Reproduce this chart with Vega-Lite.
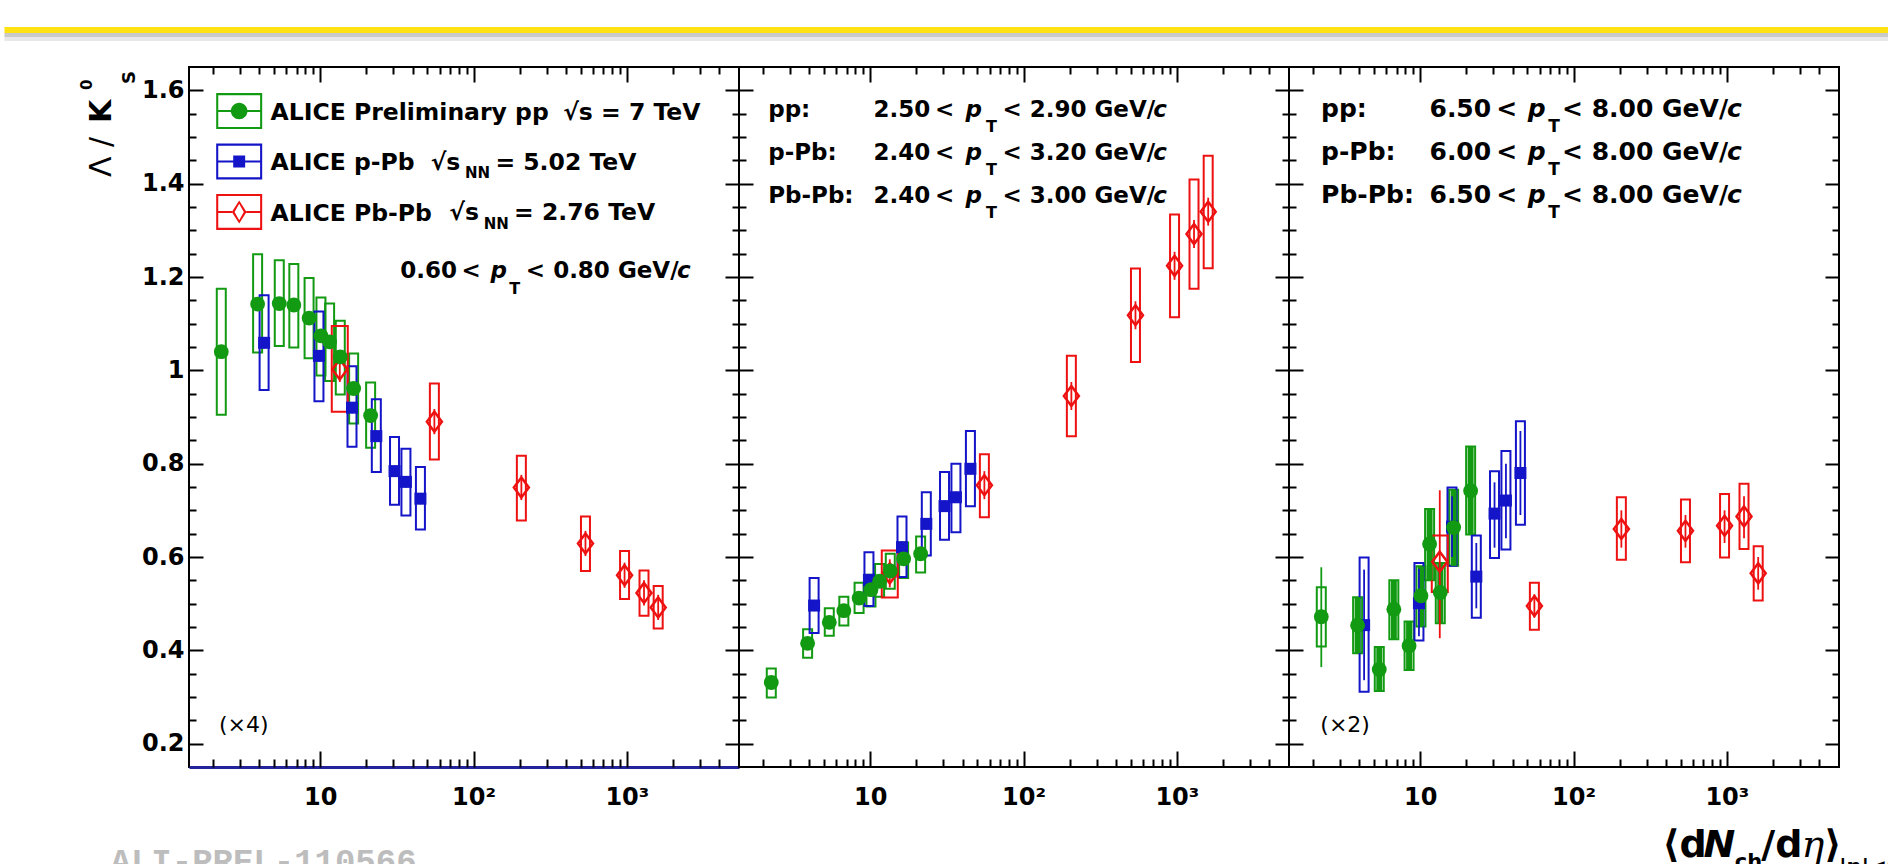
{
"$schema":"https://vega.github.io/schema/vega-lite/v6.json",
"background":"white",
"padding":{"left":0,"top":25,"right":0,"bottom":0},
"config":{"font":"DejaVu Sans","view":{"stroke":"#000","strokeWidth":2},"axis":{"grid":false,"domain":false,"labelFont":"DejaVu Sans","labelFontWeight":"bold","labelFontSize":24,"labelColor":"#000","tickColor":"#000","tickWidth":2},"text":{"color":"#000"}},
"data":{"values":[
{"panel":1,"coll":"pp","x":2.26,"y":1.040,"stat_lo":1.034,"stat_hi":1.046,"syst_lo":0.905,"syst_hi":1.175},
{"panel":1,"coll":"pp","x":3.9,"y":1.142,"stat_lo":1.136,"stat_hi":1.148,"syst_lo":1.038,"syst_hi":1.249},
{"panel":1,"coll":"pp","x":5.4,"y":1.143,"stat_lo":1.137,"stat_hi":1.149,"syst_lo":1.052,"syst_hi":1.236},
{"panel":1,"coll":"pp","x":6.72,"y":1.140,"stat_lo":1.134,"stat_hi":1.146,"syst_lo":1.049,"syst_hi":1.228},
{"panel":1,"coll":"pp","x":8.45,"y":1.112,"stat_lo":1.106,"stat_hi":1.118,"syst_lo":1.026,"syst_hi":1.198},
{"panel":1,"coll":"pp","x":10.1,"y":1.074,"stat_lo":1.068,"stat_hi":1.080,"syst_lo":0.989,"syst_hi":1.156},
{"panel":1,"coll":"pp","x":11.5,"y":1.061,"stat_lo":1.055,"stat_hi":1.067,"syst_lo":0.977,"syst_hi":1.143},
{"panel":1,"coll":"pp","x":13.5,"y":1.029,"stat_lo":1.023,"stat_hi":1.035,"syst_lo":0.948,"syst_hi":1.106},
{"panel":1,"coll":"pp","x":16.5,"y":0.961,"stat_lo":0.955,"stat_hi":0.967,"syst_lo":0.886,"syst_hi":1.036},
{"panel":1,"coll":"pp","x":21.3,"y":0.903,"stat_lo":0.897,"stat_hi":0.909,"syst_lo":0.834,"syst_hi":0.974},
{"panel":1,"coll":"pPb","x":4.3,"y":1.059,"stat_lo":1.047,"stat_hi":1.071,"syst_lo":0.958,"syst_hi":1.161},
{"panel":1,"coll":"pPb","x":9.8,"y":1.031,"stat_lo":1.019,"stat_hi":1.043,"syst_lo":0.934,"syst_hi":1.126},
{"panel":1,"coll":"pPb","x":16.1,"y":0.920,"stat_lo":0.908,"stat_hi":0.932,"syst_lo":0.836,"syst_hi":1.009},
{"panel":1,"coll":"pPb","x":23.2,"y":0.859,"stat_lo":0.847,"stat_hi":0.871,"syst_lo":0.782,"syst_hi":0.938},
{"panel":1,"coll":"pPb","x":30.5,"y":0.784,"stat_lo":0.772,"stat_hi":0.796,"syst_lo":0.712,"syst_hi":0.857},
{"panel":1,"coll":"pPb","x":36.2,"y":0.761,"stat_lo":0.749,"stat_hi":0.773,"syst_lo":0.689,"syst_hi":0.832},
{"panel":1,"coll":"pPb","x":45,"y":0.725,"stat_lo":0.713,"stat_hi":0.737,"syst_lo":0.659,"syst_hi":0.793},
{"panel":1,"coll":"PbPb","x":13.4,"y":1.002,"stat_lo":0.975,"stat_hi":1.029,"syst_lo":0.911,"syst_hi":1.095},
{"panel":1,"coll":"PbPb","x":55.5,"y":0.890,"stat_lo":0.863,"stat_hi":0.917,"syst_lo":0.809,"syst_hi":0.972},
{"panel":1,"coll":"PbPb","x":205,"y":0.749,"stat_lo":0.722,"stat_hi":0.776,"syst_lo":0.678,"syst_hi":0.817},
{"panel":1,"coll":"PbPb","x":537,"y":0.629,"stat_lo":0.602,"stat_hi":0.656,"syst_lo":0.570,"syst_hi":0.687},
{"panel":1,"coll":"PbPb","x":966,"y":0.561,"stat_lo":0.534,"stat_hi":0.588,"syst_lo":0.510,"syst_hi":0.613},
{"panel":1,"coll":"PbPb","x":1294,"y":0.523,"stat_lo":0.496,"stat_hi":0.550,"syst_lo":0.474,"syst_hi":0.571},
{"panel":1,"coll":"PbPb","x":1601,"y":0.492,"stat_lo":0.465,"stat_hi":0.519,"syst_lo":0.447,"syst_hi":0.538},
{"panel":2,"coll":"pp","x":2.26,"y":0.331,"stat_lo":0.325,"stat_hi":0.337,"syst_lo":0.299,"syst_hi":0.361},
{"panel":2,"coll":"pp","x":3.9,"y":0.415,"stat_lo":0.409,"stat_hi":0.421,"syst_lo":0.384,"syst_hi":0.445},
{"panel":2,"coll":"pp","x":5.4,"y":0.460,"stat_lo":0.454,"stat_hi":0.466,"syst_lo":0.431,"syst_hi":0.490},
{"panel":2,"coll":"pp","x":6.72,"y":0.485,"stat_lo":0.479,"stat_hi":0.491,"syst_lo":0.453,"syst_hi":0.515},
{"panel":2,"coll":"pp","x":8.45,"y":0.512,"stat_lo":0.506,"stat_hi":0.518,"syst_lo":0.480,"syst_hi":0.545},
{"panel":2,"coll":"pp","x":10.1,"y":0.530,"stat_lo":0.524,"stat_hi":0.536,"syst_lo":0.494,"syst_hi":0.562},
{"panel":2,"coll":"pp","x":11.5,"y":0.548,"stat_lo":0.542,"stat_hi":0.554,"syst_lo":0.515,"syst_hi":0.585},
{"panel":2,"coll":"pp","x":13.5,"y":0.570,"stat_lo":0.564,"stat_hi":0.576,"syst_lo":0.532,"syst_hi":0.607},
{"panel":2,"coll":"pp","x":16.5,"y":0.596,"stat_lo":0.590,"stat_hi":0.602,"syst_lo":0.555,"syst_hi":0.631},
{"panel":2,"coll":"pp","x":21.3,"y":0.607,"stat_lo":0.601,"stat_hi":0.613,"syst_lo":0.567,"syst_hi":0.644},
{"panel":2,"coll":"pPb","x":4.3,"y":0.496,"stat_lo":0.484,"stat_hi":0.508,"syst_lo":0.437,"syst_hi":0.555},
{"panel":2,"coll":"pPb","x":9.8,"y":0.551,"stat_lo":0.539,"stat_hi":0.563,"syst_lo":0.495,"syst_hi":0.610},
{"panel":2,"coll":"pPb","x":16.1,"y":0.621,"stat_lo":0.609,"stat_hi":0.633,"syst_lo":0.557,"syst_hi":0.687},
{"panel":2,"coll":"pPb","x":23.2,"y":0.671,"stat_lo":0.659,"stat_hi":0.683,"syst_lo":0.603,"syst_hi":0.739},
{"panel":2,"coll":"pPb","x":30.5,"y":0.709,"stat_lo":0.697,"stat_hi":0.721,"syst_lo":0.637,"syst_hi":0.782},
{"panel":2,"coll":"pPb","x":36.2,"y":0.728,"stat_lo":0.716,"stat_hi":0.740,"syst_lo":0.653,"syst_hi":0.800},
{"panel":2,"coll":"pPb","x":45,"y":0.789,"stat_lo":0.777,"stat_hi":0.801,"syst_lo":0.709,"syst_hi":0.870},
{"panel":2,"coll":"PbPb","x":13.4,"y":0.565,"stat_lo":0.535,"stat_hi":0.595,"syst_lo":0.513,"syst_hi":0.614},
{"panel":2,"coll":"PbPb","x":55.5,"y":0.754,"stat_lo":0.724,"stat_hi":0.784,"syst_lo":0.685,"syst_hi":0.820},
{"panel":2,"coll":"PbPb","x":205,"y":0.945,"stat_lo":0.915,"stat_hi":0.975,"syst_lo":0.859,"syst_hi":1.031},
{"panel":2,"coll":"PbPb","x":537,"y":1.118,"stat_lo":1.088,"stat_hi":1.148,"syst_lo":1.018,"syst_hi":1.218},
{"panel":2,"coll":"PbPb","x":966,"y":1.224,"stat_lo":1.194,"stat_hi":1.254,"syst_lo":1.114,"syst_hi":1.334},
{"panel":2,"coll":"PbPb","x":1294,"y":1.292,"stat_lo":1.262,"stat_hi":1.322,"syst_lo":1.175,"syst_hi":1.409},
{"panel":2,"coll":"PbPb","x":1601,"y":1.340,"stat_lo":1.310,"stat_hi":1.370,"syst_lo":1.219,"syst_hi":1.460},
{"panel":3,"coll":"pp","x":2.26,"y":0.472,"stat_lo":0.364,"stat_hi":0.578,"syst_lo":0.408,"syst_hi":0.535},
{"panel":3,"coll":"pp","x":3.9,"y":0.454,"stat_lo":0.394,"stat_hi":0.514,"syst_lo":0.394,"syst_hi":0.514},
{"panel":3,"coll":"pp","x":5.4,"y":0.359,"stat_lo":0.313,"stat_hi":0.407,"syst_lo":0.313,"syst_hi":0.407},
{"panel":3,"coll":"pp","x":6.72,"y":0.488,"stat_lo":0.424,"stat_hi":0.550,"syst_lo":0.424,"syst_hi":0.550},
{"panel":3,"coll":"pp","x":8.45,"y":0.410,"stat_lo":0.358,"stat_hi":0.462,"syst_lo":0.358,"syst_hi":0.462},
{"panel":3,"coll":"pp","x":10.1,"y":0.517,"stat_lo":0.451,"stat_hi":0.580,"syst_lo":0.451,"syst_hi":0.580},
{"panel":3,"coll":"pp","x":11.5,"y":0.628,"stat_lo":0.550,"stat_hi":0.703,"syst_lo":0.550,"syst_hi":0.703},
{"panel":3,"coll":"pp","x":13.5,"y":0.524,"stat_lo":0.458,"stat_hi":0.587,"syst_lo":0.458,"syst_hi":0.587},
{"panel":3,"coll":"pp","x":16.5,"y":0.663,"stat_lo":0.581,"stat_hi":0.744,"syst_lo":0.581,"syst_hi":0.744},
{"panel":3,"coll":"pp","x":21.3,"y":0.742,"stat_lo":0.648,"stat_hi":0.837,"syst_lo":0.648,"syst_hi":0.837},
{"panel":3,"coll":"pPb","x":4.3,"y":0.454,"stat_lo":0.336,"stat_hi":0.573,"syst_lo":0.311,"syst_hi":0.599},
{"panel":3,"coll":"pPb","x":9.8,"y":0.501,"stat_lo":0.430,"stat_hi":0.575,"syst_lo":0.421,"syst_hi":0.587},
{"panel":3,"coll":"pPb","x":16.1,"y":0.665,"stat_lo":0.600,"stat_hi":0.730,"syst_lo":0.581,"syst_hi":0.749},
{"panel":3,"coll":"pPb","x":23.2,"y":0.558,"stat_lo":0.490,"stat_hi":0.630,"syst_lo":0.470,"syst_hi":0.646},
{"panel":3,"coll":"pPb","x":30.5,"y":0.693,"stat_lo":0.620,"stat_hi":0.760,"syst_lo":0.598,"syst_hi":0.784},
{"panel":3,"coll":"pPb","x":36.2,"y":0.721,"stat_lo":0.640,"stat_hi":0.800,"syst_lo":0.616,"syst_hi":0.827},
{"panel":3,"coll":"pPb","x":45,"y":0.780,"stat_lo":0.690,"stat_hi":0.870,"syst_lo":0.669,"syst_hi":0.891},
{"panel":3,"coll":"PbPb","x":13.4,"y":0.590,"stat_lo":0.426,"stat_hi":0.743,"syst_lo":0.525,"syst_hi":0.646},
{"panel":3,"coll":"PbPb","x":55.5,"y":0.495,"stat_lo":0.470,"stat_hi":0.520,"syst_lo":0.444,"syst_hi":0.545},
{"panel":3,"coll":"PbPb","x":205,"y":0.660,"stat_lo":0.620,"stat_hi":0.700,"syst_lo":0.594,"syst_hi":0.728},
{"panel":3,"coll":"PbPb","x":537,"y":0.656,"stat_lo":0.620,"stat_hi":0.690,"syst_lo":0.589,"syst_hi":0.723},
{"panel":3,"coll":"PbPb","x":966,"y":0.667,"stat_lo":0.630,"stat_hi":0.700,"syst_lo":0.599,"syst_hi":0.735},
{"panel":3,"coll":"PbPb","x":1294,"y":0.687,"stat_lo":0.640,"stat_hi":0.730,"syst_lo":0.617,"syst_hi":0.757},
{"panel":3,"coll":"PbPb","x":1601,"y":0.565,"stat_lo":0.530,"stat_hi":0.600,"syst_lo":0.507,"syst_hi":0.623}
]},
"spacing":0,
"bounds":"flush",
"resolve":{"scale":{"x":"independent","y":"independent"}},
"hconcat":[
{"width":550,"height":700,
"resolve":{"axis":{"x":"independent","y":"independent"}},
"layer":[
{"data":{"values":[{}]},"mark":{"type":"rule","color":"#c9c9c9","strokeWidth":4},"encoding":{"x":{"datum":0.087,"type":"quantitative","scale":{"type":"log","domain":[1.5,5000],"nice":false},"axis":null},"x2":{"datum":3e11},"y":{"datum":1.7186,"type":"quantitative","scale":{"domain":[0.15,1.65],"nice":false,"zero":false},"axis":null}}},
{"data":{"values":[{}]},"mark":{"type":"rule","color":"#e8e8e8","strokeWidth":4},"encoding":{"x":{"datum":0.087,"type":"quantitative","scale":{"type":"log","domain":[1.5,5000],"nice":false},"axis":null},"x2":{"datum":3e11},"y":{"datum":1.71,"type":"quantitative","scale":{"domain":[0.15,1.65],"nice":false,"zero":false},"axis":null}}},
{"data":{"values":[{}]},"mark":{"type":"rule","color":"#ffe212","strokeWidth":6},"encoding":{"x":{"datum":0.087,"type":"quantitative","scale":{"type":"log","domain":[1.5,5000],"nice":false},"axis":null},"x2":{"datum":3e11},"y":{"datum":1.7293,"type":"quantitative","scale":{"domain":[0.15,1.65],"nice":false,"zero":false},"axis":null}}},
{"transform":[{"filter":"datum.panel == 1 && !(datum.coll == 'PbPb' && datum.x < 20)"}],
"mark":{"type":"bar","filled":false,"width":9,"strokeWidth":2},
"encoding":{"x":{"field":"x","type":"quantitative","scale":{"type":"log","domain":[1.5,5000],"nice":false},"axis":{"orient":"bottom","values":[10,100,1000],"ticks":false,"domain":true,"domainColor":"#23239a","domainWidth":3,"labelExpr":"datum.value == 10 ? '10' : datum.value == 100 ? '10²' : '10³'","labelAlign":"center","labelPadding":18,"title":null}},
"y":{"field":"syst_lo","type":"quantitative","scale":{"domain":[0.15,1.65],"nice":false,"zero":false},"axis":{"orient":"left","values":[0.2,0.4,0.6,0.8,1,1.2,1.4,1.6],"ticks":false,"format":"~g","labelPadding":5,"title":null}},
"y2":{"field":"syst_hi"},
"color":{"field":"coll","type":"nominal","scale":{"domain":["pp","pPb","PbPb"],"range":["#129a12","#1414c8","#ee1111"]},"legend":null}}},
{"transform":[{"filter":"datum.panel == 1 && datum.coll == 'PbPb' && datum.x < 20"}],
"mark":{"type":"bar","filled":false,"width":16,"strokeWidth":2},
"encoding":{"x":{"field":"x","type":"quantitative","scale":{"type":"log","domain":[1.5,5000],"nice":false},"axis":{"orient":"bottom","values":[10,100,1000],"labels":false,"tickSize":16,"offset":-16,"title":null}},
"y":{"field":"syst_lo","type":"quantitative","scale":{"domain":[0.15,1.65],"nice":false,"zero":false},"axis":{"orient":"left","values":[0.2,0.4,0.6,0.8,1,1.2,1.4,1.6],"labels":false,"tickSize":14,"offset":-14,"title":null}},
"y2":{"field":"syst_hi"},
"color":{"field":"coll","type":"nominal","scale":{"domain":["pp","pPb","PbPb"],"range":["#129a12","#1414c8","#ee1111"]},"legend":null}}},
{"transform":[{"filter":"datum.panel == 1"}],
"mark":{"type":"rule","strokeWidth":1.8},
"encoding":{"x":{"field":"x","type":"quantitative","scale":{"type":"log","domain":[1.5,5000],"nice":false},"axis":{"orient":"bottom","values":[2,3,4,5,6,7,8,9,20,30,40,50,60,70,80,90,200,300,400,500,600,700,800,900,2000,3000,4000],"labels":false,"tickSize":8,"offset":-8,"title":null}},
"y":{"field":"stat_lo","type":"quantitative","scale":{"domain":[0.15,1.65],"nice":false,"zero":false},"axis":{"orient":"left","values":[0.25,0.3,0.35,0.45,0.5,0.55,0.65,0.7,0.75,0.85,0.9,0.95,1.05,1.1,1.15,1.25,1.3,1.35,1.45,1.5,1.55],"labels":false,"tickSize":7,"offset":-7,"title":null}},
"y2":{"field":"stat_hi"},
"color":{"field":"coll","type":"nominal","scale":{"domain":["pp","pPb","PbPb"],"range":["#129a12","#1414c8","#ee1111"]},"legend":null}}},
{"transform":[{"filter":"datum.panel == 1 && datum.coll == 'PbPb'"}],
"mark":{"type":"point","shape":"M0,-1L0.75,0L0,1L-0.75,0Z","size":400,"filled":false,"strokeWidth":2.5,"color":"#ee1111","opacity":1},
"encoding":{"x":{"field":"x","type":"quantitative","scale":{"type":"log","domain":[1.5,5000],"nice":false},"axis":{"orient":"top","values":[10,100,1000],"labels":false,"tickSize":15,"offset":-15,"title":null}},
"y":{"field":"y","type":"quantitative","scale":{"domain":[0.15,1.65],"nice":false,"zero":false},"axis":{"orient":"right","values":[0.2,0.4,0.6,0.8,1,1.2,1.4,1.6],"labels":false,"tickSize":14,"offset":-14,"title":null}}}},
{"transform":[{"filter":"datum.panel == 1 && datum.coll == 'pPb'"}],
"mark":{"type":"point","shape":"square","size":144,"filled":true,"color":"#1414c8","opacity":1},
"encoding":{"x":{"field":"x","type":"quantitative","scale":{"type":"log","domain":[1.5,5000],"nice":false},"axis":{"orient":"top","values":[2,3,4,5,6,7,8,9,20,30,40,50,60,70,80,90,200,300,400,500,600,700,800,900,2000,3000,4000],"labels":false,"tickSize":7,"offset":-7,"title":null}},
"y":{"field":"y","type":"quantitative","scale":{"domain":[0.15,1.65],"nice":false,"zero":false},"axis":{"orient":"right","values":[0.25,0.3,0.35,0.45,0.5,0.55,0.65,0.7,0.75,0.85,0.9,0.95,1.05,1.1,1.15,1.25,1.3,1.35,1.45,1.5,1.55],"labels":false,"tickSize":7,"offset":-7,"title":null}}}},
{"transform":[{"filter":"datum.panel == 1 && datum.coll == 'pp'"}],
"mark":{"type":"point","shape":"circle","size":220,"filled":true,"color":"#129a12","opacity":1},
"encoding":{"x":{"field":"x","type":"quantitative","scale":{"type":"log","domain":[1.5,5000],"nice":false},"axis":null},
"y":{"field":"y","type":"quantitative","scale":{"domain":[0.15,1.65],"nice":false,"zero":false},"axis":null}}},
{"data":{"values":[{}]},"mark":{"type":"point","shape":"M-1,-0.78L1,-0.78L1,0.78L-1,0.78Z M-0.91,-0.69L-0.91,0.69L0.91,0.69L0.91,-0.69Z M-0.91,-0.045L0.91,-0.045L0.91,0.045L-0.91,0.045Z M-0.36,0A0.36,0.36 0 1,1 0.36,0A0.36,0.36 0 1,1 -0.36,0Z","size":2116,"filled":true,"color":"#129a12","strokeWidth":0,"opacity":1},"encoding":{"x":{"datum":2.957,"type":"quantitative","scale":{"type":"log","domain":[1.5,5000],"nice":false},"axis":null},"y":{"datum":1.5557,"type":"quantitative","scale":{"domain":[0.15,1.65],"nice":false,"zero":false},"axis":null}}},
{"data":{"values":[{}]},"mark":{"type":"point","shape":"M-1,-0.78L1,-0.78L1,0.78L-1,0.78Z M-0.91,-0.69L-0.91,0.69L0.91,0.69L0.91,-0.69Z M-0.91,-0.045L0.91,-0.045L0.91,0.045L-0.91,0.045Z M-0.26,-0.26L0.26,-0.26L0.26,0.26L-0.26,0.26Z","size":2116,"filled":true,"color":"#1414c8","strokeWidth":0,"opacity":1},"encoding":{"x":{"datum":2.957,"type":"quantitative","scale":{"type":"log","domain":[1.5,5000],"nice":false},"axis":null},"y":{"datum":1.4475,"type":"quantitative","scale":{"domain":[0.15,1.65],"nice":false,"zero":false},"axis":null}}},
{"data":{"values":[{}]},"mark":{"type":"point","shape":"M-1,-0.78L1,-0.78L1,0.78L-1,0.78Z M-0.91,-0.69L-0.91,0.69L0.91,0.69L0.91,-0.69Z M-0.91,-0.045L-0.31,-0.045L-0.31,0.045L-0.91,0.045Z M0.31,-0.045L0.91,-0.045L0.91,0.045L0.31,0.045Z M0,-0.5L0.32,0L0,0.5L-0.32,0Z M0,-0.36L-0.2,0L0,0.36L0.2,0Z","size":2116,"filled":true,"color":"#ee1111","strokeWidth":0,"opacity":1},"encoding":{"x":{"datum":2.957,"type":"quantitative","scale":{"type":"log","domain":[1.5,5000],"nice":false},"axis":null},"y":{"datum":1.3393,"type":"quantitative","scale":{"domain":[0.15,1.65],"nice":false,"zero":false},"axis":null}}},
{"data":{"values":[{}]},"mark":{"type":"text","text":["ALICE Preliminary pp","ALICE p-Pb","ALICE Pb-Pb"],"lineHeight":50.5,"align":"left","baseline":"alphabetic","fontSize":23.5,"fontWeight":"bold"},"encoding":{"x":{"datum":4.74,"type":"quantitative","scale":{"type":"log","domain":[1.5,5000],"nice":false},"axis":null},"y":{"datum":1.5375,"type":"quantitative","scale":{"domain":[0.15,1.65],"nice":false,"zero":false},"axis":null}}},
{"data":{"values":[{}]},"mark":{"type":"text","text":"√s = 7 TeV","align":"left","baseline":"alphabetic","fontSize":23.5,"fontWeight":"bold"},"encoding":{"x":{"datum":384.2,"type":"quantitative","scale":{"type":"log","domain":[1.5,5000],"nice":false},"axis":null},"y":{"datum":1.5375,"type":"quantitative","scale":{"domain":[0.15,1.65],"nice":false,"zero":false},"axis":null}}},
{"data":{"values":[{}]},"mark":{"type":"text","text":"√s","align":"left","baseline":"alphabetic","fontSize":23.5,"fontWeight":"bold"},"encoding":{"x":{"datum":52.5,"type":"quantitative","scale":{"type":"log","domain":[1.5,5000],"nice":false},"axis":null},"y":{"datum":1.4293,"type":"quantitative","scale":{"domain":[0.15,1.65],"nice":false,"zero":false},"axis":null}}},
{"data":{"values":[{}]},"mark":{"type":"text","text":"NN","align":"left","baseline":"alphabetic","fontSize":15,"fontWeight":"bold"},"encoding":{"x":{"datum":87.9,"type":"quantitative","scale":{"type":"log","domain":[1.5,5000],"nice":false},"axis":null},"y":{"datum":1.4121,"type":"quantitative","scale":{"domain":[0.15,1.65],"nice":false,"zero":false},"axis":null}}},
{"data":{"values":[{}]},"mark":{"type":"text","text":"= 5.02 TeV","align":"left","baseline":"alphabetic","fontSize":23.5,"fontWeight":"bold"},"encoding":{"x":{"datum":138.8,"type":"quantitative","scale":{"type":"log","domain":[1.5,5000],"nice":false},"axis":null},"y":{"datum":1.4293,"type":"quantitative","scale":{"domain":[0.15,1.65],"nice":false,"zero":false},"axis":null}}},
{"data":{"values":[{}]},"mark":{"type":"text","text":"√s","align":"left","baseline":"alphabetic","fontSize":23.5,"fontWeight":"bold"},"encoding":{"x":{"datum":69.4,"type":"quantitative","scale":{"type":"log","domain":[1.5,5000],"nice":false},"axis":null},"y":{"datum":1.3211,"type":"quantitative","scale":{"domain":[0.15,1.65],"nice":false,"zero":false},"axis":null}}},
{"data":{"values":[{}]},"mark":{"type":"text","text":"NN","align":"left","baseline":"alphabetic","fontSize":15,"fontWeight":"bold"},"encoding":{"x":{"datum":116.3,"type":"quantitative","scale":{"type":"log","domain":[1.5,5000],"nice":false},"axis":null},"y":{"datum":1.3039,"type":"quantitative","scale":{"domain":[0.15,1.65],"nice":false,"zero":false},"axis":null}}},
{"data":{"values":[{}]},"mark":{"type":"text","text":"= 2.76 TeV","align":"left","baseline":"alphabetic","fontSize":23.5,"fontWeight":"bold"},"encoding":{"x":{"datum":183.8,"type":"quantitative","scale":{"type":"log","domain":[1.5,5000],"nice":false},"axis":null},"y":{"datum":1.3211,"type":"quantitative","scale":{"domain":[0.15,1.65],"nice":false,"zero":false},"axis":null}}},
{"data":{"values":[{}]},"mark":{"type":"text","text":"0.60\u2009<","align":"left","baseline":"alphabetic","fontSize":23,"fontWeight":"bold"},"encoding":{"x":{"datum":33.2,"type":"quantitative","scale":{"type":"log","domain":[1.5,5000],"nice":false},"axis":null},"y":{"datum":1.198,"type":"quantitative","scale":{"domain":[0.15,1.65],"nice":false,"zero":false},"axis":null}}},
{"data":{"values":[{}]},"mark":{"type":"text","text":"p","align":"left","baseline":"alphabetic","fontSize":23,"fontWeight":"bold","fontStyle":"italic"},"encoding":{"x":{"datum":129,"type":"quantitative","scale":{"type":"log","domain":[1.5,5000],"nice":false},"axis":null},"y":{"datum":1.198,"type":"quantitative","scale":{"domain":[0.15,1.65],"nice":false,"zero":false},"axis":null}}},
{"data":{"values":[{}]},"mark":{"type":"text","text":"T","align":"left","baseline":"alphabetic","fontSize":16,"fontWeight":"bold"},"encoding":{"x":{"datum":170.7,"type":"quantitative","scale":{"type":"log","domain":[1.5,5000],"nice":false},"axis":null},"y":{"datum":1.1636,"type":"quantitative","scale":{"domain":[0.15,1.65],"nice":false,"zero":false},"axis":null}}},
{"data":{"values":[{}]},"mark":{"type":"text","text":"< 0.80 GeV/","align":"left","baseline":"alphabetic","fontSize":23,"fontWeight":"bold"},"encoding":{"x":{"datum":219.3,"type":"quantitative","scale":{"type":"log","domain":[1.5,5000],"nice":false},"axis":null},"y":{"datum":1.198,"type":"quantitative","scale":{"domain":[0.15,1.65],"nice":false,"zero":false},"axis":null}}},
{"data":{"values":[{}]},"mark":{"type":"text","text":"c","align":"left","baseline":"alphabetic","fontSize":23,"fontWeight":"bold","fontStyle":"italic"},"encoding":{"x":{"datum":2120,"type":"quantitative","scale":{"type":"log","domain":[1.5,5000],"nice":false},"axis":null},"y":{"datum":1.198,"type":"quantitative","scale":{"domain":[0.15,1.65],"nice":false,"zero":false},"axis":null}}},
{"data":{"values":[{}]},"mark":{"type":"text","text":"(×4)","align":"left","baseline":"alphabetic","fontSize":22,"fontWeight":"normal"},"encoding":{"x":{"datum":2.185,"type":"quantitative","scale":{"type":"log","domain":[1.5,5000],"nice":false},"axis":null},"y":{"datum":0.225,"type":"quantitative","scale":{"domain":[0.15,1.65],"nice":false,"zero":false},"axis":null}}},
{"data":{"values":[{}]},"mark":{"type":"text","text":"Λ / ","align":"left","baseline":"alphabetic","fontSize":30,"fontWeight":"normal","angle":270},"encoding":{"x":{"datum":0.428,"type":"quantitative","scale":{"type":"log","domain":[1.5,5000],"nice":false},"axis":null},"y":{"datum":1.4143,"type":"quantitative","scale":{"domain":[0.15,1.65],"nice":false,"zero":false},"axis":null}}},
{"data":{"values":[{}]},"mark":{"type":"text","text":"K","align":"left","baseline":"alphabetic","fontSize":30,"fontWeight":"bold","angle":270},"encoding":{"x":{"datum":0.428,"type":"quantitative","scale":{"type":"log","domain":[1.5,5000],"nice":false},"axis":null},"y":{"datum":1.53,"type":"quantitative","scale":{"domain":[0.15,1.65],"nice":false,"zero":false},"axis":null}}},
{"data":{"values":[{}]},"mark":{"type":"text","text":"0","align":"left","baseline":"alphabetic","fontSize":15,"fontWeight":"bold","angle":270},"encoding":{"x":{"datum":0.3236,"type":"quantitative","scale":{"type":"log","domain":[1.5,5000],"nice":false},"axis":null},"y":{"datum":1.6007,"type":"quantitative","scale":{"domain":[0.15,1.65],"nice":false,"zero":false},"axis":null}}},
{"data":{"values":[{}]},"mark":{"type":"text","text":"S","align":"left","baseline":"alphabetic","fontSize":18,"fontWeight":"bold","angle":270},"encoding":{"x":{"datum":0.619,"type":"quantitative","scale":{"type":"log","domain":[1.5,5000],"nice":false},"axis":null},"y":{"datum":1.6136,"type":"quantitative","scale":{"domain":[0.15,1.65],"nice":false,"zero":false},"axis":null}}},
{"data":{"values":[{}]},"mark":{"type":"text","text":"ALI-PREL-110566","align":"left","baseline":"alphabetic","fontSize":34,"fontWeight":"bold","font":"Liberation Mono","color":"#bdbdbd"},"encoding":{"x":{"datum":0.428,"type":"quantitative","scale":{"type":"log","domain":[1.5,5000],"nice":false},"axis":null},"y":{"datum":-0.075,"type":"quantitative","scale":{"domain":[0.15,1.65],"nice":false,"zero":false},"axis":null}}}
]},
{"width":550,"height":700,
"resolve":{"axis":{"x":"independent","y":"independent"}},
"layer":[
{"transform":[{"filter":"datum.panel == 2 && !(datum.coll == 'PbPb' && datum.x < 20)"}],
"mark":{"type":"bar","filled":false,"width":9,"strokeWidth":2},
"encoding":{"x":{"field":"x","type":"quantitative","scale":{"type":"log","domain":[1.5,5000],"nice":false},"axis":{"orient":"bottom","values":[10,100,1000],"ticks":false,"labelExpr":"datum.value == 10 ? '10' : datum.value == 100 ? '10²' : '10³'","labelAlign":"center","labelPadding":18,"title":null}},
"y":{"field":"syst_lo","type":"quantitative","scale":{"domain":[0.15,1.65],"nice":false,"zero":false},"axis":null},
"y2":{"field":"syst_hi"},
"color":{"field":"coll","type":"nominal","scale":{"domain":["pp","pPb","PbPb"],"range":["#129a12","#1414c8","#ee1111"]},"legend":null}}},
{"transform":[{"filter":"datum.panel == 2 && datum.coll == 'PbPb' && datum.x < 20"}],
"mark":{"type":"bar","filled":false,"width":16,"strokeWidth":2},
"encoding":{"x":{"field":"x","type":"quantitative","scale":{"type":"log","domain":[1.5,5000],"nice":false},"axis":{"orient":"bottom","values":[10,100,1000],"labels":false,"tickSize":16,"offset":-16,"title":null}},
"y":{"field":"syst_lo","type":"quantitative","scale":{"domain":[0.15,1.65],"nice":false,"zero":false},"axis":{"orient":"left","values":[0.2,0.4,0.6,0.8,1,1.2,1.4,1.6],"labels":false,"tickSize":14,"offset":-14,"title":null}},
"y2":{"field":"syst_hi"},
"color":{"field":"coll","type":"nominal","scale":{"domain":["pp","pPb","PbPb"],"range":["#129a12","#1414c8","#ee1111"]},"legend":null}}},
{"transform":[{"filter":"datum.panel == 2"}],
"mark":{"type":"rule","strokeWidth":1.8},
"encoding":{"x":{"field":"x","type":"quantitative","scale":{"type":"log","domain":[1.5,5000],"nice":false},"axis":{"orient":"bottom","values":[2,3,4,5,6,7,8,9,20,30,40,50,60,70,80,90,200,300,400,500,600,700,800,900,2000,3000,4000],"labels":false,"tickSize":8,"offset":-8,"title":null}},
"y":{"field":"stat_lo","type":"quantitative","scale":{"domain":[0.15,1.65],"nice":false,"zero":false},"axis":{"orient":"left","values":[0.25,0.3,0.35,0.45,0.5,0.55,0.65,0.7,0.75,0.85,0.9,0.95,1.05,1.1,1.15,1.25,1.3,1.35,1.45,1.5,1.55],"labels":false,"tickSize":7,"offset":-7,"title":null}},
"y2":{"field":"stat_hi"},
"color":{"field":"coll","type":"nominal","scale":{"domain":["pp","pPb","PbPb"],"range":["#129a12","#1414c8","#ee1111"]},"legend":null}}},
{"transform":[{"filter":"datum.panel == 2 && datum.coll == 'PbPb'"}],
"mark":{"type":"point","shape":"M0,-1L0.75,0L0,1L-0.75,0Z","size":400,"filled":false,"strokeWidth":2.5,"color":"#ee1111","opacity":1},
"encoding":{"x":{"field":"x","type":"quantitative","scale":{"type":"log","domain":[1.5,5000],"nice":false},"axis":{"orient":"top","values":[10,100,1000],"labels":false,"tickSize":15,"offset":-15,"title":null}},
"y":{"field":"y","type":"quantitative","scale":{"domain":[0.15,1.65],"nice":false,"zero":false},"axis":{"orient":"right","values":[0.2,0.4,0.6,0.8,1,1.2,1.4,1.6],"labels":false,"tickSize":14,"offset":-14,"title":null}}}},
{"transform":[{"filter":"datum.panel == 2 && datum.coll == 'pPb'"}],
"mark":{"type":"point","shape":"square","size":144,"filled":true,"color":"#1414c8","opacity":1},
"encoding":{"x":{"field":"x","type":"quantitative","scale":{"type":"log","domain":[1.5,5000],"nice":false},"axis":{"orient":"top","values":[2,3,4,5,6,7,8,9,20,30,40,50,60,70,80,90,200,300,400,500,600,700,800,900,2000,3000,4000],"labels":false,"tickSize":7,"offset":-7,"title":null}},
"y":{"field":"y","type":"quantitative","scale":{"domain":[0.15,1.65],"nice":false,"zero":false},"axis":{"orient":"right","values":[0.25,0.3,0.35,0.45,0.5,0.55,0.65,0.7,0.75,0.85,0.9,0.95,1.05,1.1,1.15,1.25,1.3,1.35,1.45,1.5,1.55],"labels":false,"tickSize":7,"offset":-7,"title":null}}}},
{"transform":[{"filter":"datum.panel == 2 && datum.coll == 'pp'"}],
"mark":{"type":"point","shape":"circle","size":220,"filled":true,"color":"#129a12","opacity":1},
"encoding":{"x":{"field":"x","type":"quantitative","scale":{"type":"log","domain":[1.5,5000],"nice":false},"axis":null},
"y":{"field":"y","type":"quantitative","scale":{"domain":[0.15,1.65],"nice":false,"zero":false},"axis":null}}},
{"data":{"values":[{}]},"mark":{"type":"text","text":["pp:","p-Pb:","Pb-Pb:"],"lineHeight":43,"align":"left","baseline":"alphabetic","fontSize":23,"fontWeight":"bold"},"encoding":{"x":{"datum":2.157,"type":"quantitative","scale":{"type":"log","domain":[1.5,5000],"nice":false},"axis":null},"y":{"datum":1.5429,"type":"quantitative","scale":{"domain":[0.15,1.65],"nice":false,"zero":false},"axis":null}}},
{"data":{"values":[{}]},"mark":{"type":"text","text":["2.50\u2009<","2.40\u2009<","2.40\u2009<"],"lineHeight":43,"align":"left","baseline":"alphabetic","fontSize":23,"fontWeight":"bold"},"encoding":{"x":{"datum":10.51,"type":"quantitative","scale":{"type":"log","domain":[1.5,5000],"nice":false},"axis":null},"y":{"datum":1.5429,"type":"quantitative","scale":{"domain":[0.15,1.65],"nice":false,"zero":false},"axis":null}}},
{"data":{"values":[{}]},"mark":{"type":"text","text":["p","p","p"],"lineHeight":43,"align":"left","baseline":"alphabetic","fontSize":23,"fontWeight":"bold","fontStyle":"italic"},"encoding":{"x":{"datum":41.85,"type":"quantitative","scale":{"type":"log","domain":[1.5,5000],"nice":false},"axis":null},"y":{"datum":1.5429,"type":"quantitative","scale":{"domain":[0.15,1.65],"nice":false,"zero":false},"axis":null}}},
{"data":{"values":[{}]},"mark":{"type":"text","text":["T","T","T"],"lineHeight":43,"align":"left","baseline":"alphabetic","fontSize":16,"fontWeight":"bold"},"encoding":{"x":{"datum":56.8,"type":"quantitative","scale":{"type":"log","domain":[1.5,5000],"nice":false},"axis":null},"y":{"datum":1.5107,"type":"quantitative","scale":{"domain":[0.15,1.65],"nice":false,"zero":false},"axis":null}}},
{"data":{"values":[{}]},"mark":{"type":"text","text":["< 2.90 GeV/","< 3.20 GeV/","< 3.00 GeV/"],"lineHeight":43,"align":"left","baseline":"alphabetic","fontSize":23,"fontWeight":"bold"},"encoding":{"x":{"datum":72.8,"type":"quantitative","scale":{"type":"log","domain":[1.5,5000],"nice":false},"axis":null},"y":{"datum":1.5429,"type":"quantitative","scale":{"domain":[0.15,1.65],"nice":false,"zero":false},"axis":null}}},
{"data":{"values":[{}]},"mark":{"type":"text","text":["c","c","c"],"lineHeight":43,"align":"left","baseline":"alphabetic","fontSize":23,"fontWeight":"bold","fontStyle":"italic"},"encoding":{"x":{"datum":701,"type":"quantitative","scale":{"type":"log","domain":[1.5,5000],"nice":false},"axis":null},"y":{"datum":1.5429,"type":"quantitative","scale":{"domain":[0.15,1.65],"nice":false,"zero":false},"axis":null}}}
]},
{"width":550,"height":700,
"resolve":{"axis":{"x":"independent","y":"independent"}},
"layer":[
{"transform":[{"filter":"datum.panel == 3 && !(datum.coll == 'PbPb' && datum.x < 20)"}],
"mark":{"type":"bar","filled":false,"width":9,"strokeWidth":2},
"encoding":{"x":{"field":"x","type":"quantitative","scale":{"type":"log","domain":[1.5,5000],"nice":false},"axis":{"orient":"bottom","values":[10,100,1000],"ticks":false,"labelExpr":"datum.value == 10 ? '10' : datum.value == 100 ? '10²' : '10³'","labelAlign":"center","labelPadding":18,"title":null}},
"y":{"field":"syst_lo","type":"quantitative","scale":{"domain":[0.15,1.65],"nice":false,"zero":false},"axis":null},
"y2":{"field":"syst_hi"},
"color":{"field":"coll","type":"nominal","scale":{"domain":["pp","pPb","PbPb"],"range":["#129a12","#1414c8","#ee1111"]},"legend":null}}},
{"transform":[{"filter":"datum.panel == 3 && datum.coll == 'PbPb' && datum.x < 20"}],
"mark":{"type":"bar","filled":false,"width":16,"strokeWidth":2},
"encoding":{"x":{"field":"x","type":"quantitative","scale":{"type":"log","domain":[1.5,5000],"nice":false},"axis":{"orient":"bottom","values":[10,100,1000],"labels":false,"tickSize":16,"offset":-16,"title":null}},
"y":{"field":"syst_lo","type":"quantitative","scale":{"domain":[0.15,1.65],"nice":false,"zero":false},"axis":{"orient":"left","values":[0.2,0.4,0.6,0.8,1,1.2,1.4,1.6],"labels":false,"tickSize":14,"offset":-14,"title":null}},
"y2":{"field":"syst_hi"},
"color":{"field":"coll","type":"nominal","scale":{"domain":["pp","pPb","PbPb"],"range":["#129a12","#1414c8","#ee1111"]},"legend":null}}},
{"transform":[{"filter":"datum.panel == 3"}],
"mark":{"type":"rule"},
"encoding":{"x":{"field":"x","type":"quantitative","scale":{"type":"log","domain":[1.5,5000],"nice":false},"axis":{"orient":"bottom","values":[2,3,4,5,6,7,8,9,20,30,40,50,60,70,80,90,200,300,400,500,600,700,800,900,2000,3000,4000],"labels":false,"tickSize":8,"offset":-8,"title":null}},
"y":{"field":"stat_lo","type":"quantitative","scale":{"domain":[0.15,1.65],"nice":false,"zero":false},"axis":{"orient":"left","values":[0.25,0.3,0.35,0.45,0.5,0.55,0.65,0.7,0.75,0.85,0.9,0.95,1.05,1.1,1.15,1.25,1.3,1.35,1.45,1.5,1.55],"labels":false,"tickSize":7,"offset":-7,"title":null}},
"y2":{"field":"stat_hi"},
"strokeWidth":{"condition":{"test":"datum.coll == 'pp' && datum.x > 3","value":6},"value":1.8},
"color":{"field":"coll","type":"nominal","scale":{"domain":["pp","pPb","PbPb"],"range":["#129a12","#1414c8","#ee1111"]},"legend":null}}},
{"transform":[{"filter":"datum.panel == 3 && datum.coll == 'PbPb'"}],
"mark":{"type":"point","shape":"M0,-1L0.75,0L0,1L-0.75,0Z","size":400,"filled":false,"strokeWidth":2.5,"color":"#ee1111","opacity":1},
"encoding":{"x":{"field":"x","type":"quantitative","scale":{"type":"log","domain":[1.5,5000],"nice":false},"axis":{"orient":"top","values":[10,100,1000],"labels":false,"tickSize":15,"offset":-15,"title":null}},
"y":{"field":"y","type":"quantitative","scale":{"domain":[0.15,1.65],"nice":false,"zero":false},"axis":{"orient":"right","values":[0.2,0.4,0.6,0.8,1,1.2,1.4,1.6],"labels":false,"tickSize":14,"offset":-14,"title":null}}}},
{"transform":[{"filter":"datum.panel == 3 && datum.coll == 'pPb'"}],
"mark":{"type":"point","shape":"square","size":144,"filled":true,"color":"#1414c8","opacity":1},
"encoding":{"x":{"field":"x","type":"quantitative","scale":{"type":"log","domain":[1.5,5000],"nice":false},"axis":{"orient":"top","values":[2,3,4,5,6,7,8,9,20,30,40,50,60,70,80,90,200,300,400,500,600,700,800,900,2000,3000,4000],"labels":false,"tickSize":7,"offset":-7,"title":null}},
"y":{"field":"y","type":"quantitative","scale":{"domain":[0.15,1.65],"nice":false,"zero":false},"axis":{"orient":"right","values":[0.25,0.3,0.35,0.45,0.5,0.55,0.65,0.7,0.75,0.85,0.9,0.95,1.05,1.1,1.15,1.25,1.3,1.35,1.45,1.5,1.55],"labels":false,"tickSize":7,"offset":-7,"title":null}}}},
{"transform":[{"filter":"datum.panel == 3 && datum.coll == 'pp'"}],
"mark":{"type":"point","shape":"circle","size":220,"filled":true,"color":"#129a12","opacity":1},
"encoding":{"x":{"field":"x","type":"quantitative","scale":{"type":"log","domain":[1.5,5000],"nice":false},"axis":null},
"y":{"field":"y","type":"quantitative","scale":{"domain":[0.15,1.65],"nice":false,"zero":false},"axis":null}}},
{"data":{"values":[{}]},"mark":{"type":"text","text":["pp:","p-Pb:","Pb-Pb:"],"lineHeight":43,"align":"left","baseline":"alphabetic","fontSize":25,"fontWeight":"bold"},"encoding":{"x":{"datum":2.253,"type":"quantitative","scale":{"type":"log","domain":[1.5,5000],"nice":false},"axis":null},"y":{"datum":1.5429,"type":"quantitative","scale":{"domain":[0.15,1.65],"nice":false,"zero":false},"axis":null}}},
{"data":{"values":[{}]},"mark":{"type":"text","text":["6.50\u2009<","6.00\u2009<","6.50\u2009<"],"lineHeight":43,"align":"left","baseline":"alphabetic","fontSize":25,"fontWeight":"bold"},"encoding":{"x":{"datum":11.48,"type":"quantitative","scale":{"type":"log","domain":[1.5,5000],"nice":false},"axis":null},"y":{"datum":1.5429,"type":"quantitative","scale":{"domain":[0.15,1.65],"nice":false,"zero":false},"axis":null}}},
{"data":{"values":[{}]},"mark":{"type":"text","text":["p","p","p"],"lineHeight":43,"align":"left","baseline":"alphabetic","fontSize":25,"fontWeight":"bold","fontStyle":"italic"},"encoding":{"x":{"datum":50.2,"type":"quantitative","scale":{"type":"log","domain":[1.5,5000],"nice":false},"axis":null},"y":{"datum":1.5429,"type":"quantitative","scale":{"domain":[0.15,1.65],"nice":false,"zero":false},"axis":null}}},
{"data":{"values":[{}]},"mark":{"type":"text","text":["T","T","T"],"lineHeight":43,"align":"left","baseline":"alphabetic","fontSize":17,"fontWeight":"bold"},"encoding":{"x":{"datum":68.4,"type":"quantitative","scale":{"type":"log","domain":[1.5,5000],"nice":false},"axis":null},"y":{"datum":1.5107,"type":"quantitative","scale":{"domain":[0.15,1.65],"nice":false,"zero":false},"axis":null}}},
{"data":{"values":[{}]},"mark":{"type":"text","text":["< 8.00 GeV/","< 8.00 GeV/","< 8.00 GeV/"],"lineHeight":43,"align":"left","baseline":"alphabetic","fontSize":25,"fontWeight":"bold"},"encoding":{"x":{"datum":84.1,"type":"quantitative","scale":{"type":"log","domain":[1.5,5000],"nice":false},"axis":null},"y":{"datum":1.5429,"type":"quantitative","scale":{"domain":[0.15,1.65],"nice":false,"zero":false},"axis":null}}},
{"data":{"values":[{}]},"mark":{"type":"text","text":["c","c","c"],"lineHeight":43,"align":"left","baseline":"alphabetic","fontSize":25,"fontWeight":"bold","fontStyle":"italic"},"encoding":{"x":{"datum":1001.9,"type":"quantitative","scale":{"type":"log","domain":[1.5,5000],"nice":false},"axis":null},"y":{"datum":1.5429,"type":"quantitative","scale":{"domain":[0.15,1.65],"nice":false,"zero":false},"axis":null}}},
{"data":{"values":[{}]},"mark":{"type":"text","text":"(×2)","align":"left","baseline":"alphabetic","fontSize":22,"fontWeight":"normal"},"encoding":{"x":{"datum":2.227,"type":"quantitative","scale":{"type":"log","domain":[1.5,5000],"nice":false},"axis":null},"y":{"datum":0.225,"type":"quantitative","scale":{"domain":[0.15,1.65],"nice":false,"zero":false},"axis":null}}},
{"data":{"values":[{}]},"mark":{"type":"text","text":"⟨d","align":"left","baseline":"alphabetic","fontSize":38,"fontWeight":"bold"},"encoding":{"x":{"datum":378.6,"type":"quantitative","scale":{"type":"log","domain":[1.5,5000],"nice":false},"axis":null},"y":{"datum":-0.0429,"type":"quantitative","scale":{"domain":[0.15,1.65],"nice":false,"zero":false},"axis":null}}},
{"data":{"values":[{}]},"mark":{"type":"text","text":"N","align":"left","baseline":"alphabetic","fontSize":38,"fontWeight":"bold","fontStyle":"italic"},"encoding":{"x":{"datum":703.2,"type":"quantitative","scale":{"type":"log","domain":[1.5,5000],"nice":false},"axis":null},"y":{"datum":-0.0429,"type":"quantitative","scale":{"domain":[0.15,1.65],"nice":false,"zero":false},"axis":null}}},
{"data":{"values":[{}]},"mark":{"type":"text","text":"ch","align":"left","baseline":"alphabetic","fontSize":21,"fontWeight":"bold"},"encoding":{"x":{"datum":1127,"type":"quantitative","scale":{"type":"log","domain":[1.5,5000],"nice":false},"axis":null},"y":{"datum":-0.0686,"type":"quantitative","scale":{"domain":[0.15,1.65],"nice":false,"zero":false},"axis":null}}},
{"data":{"values":[{}]},"mark":{"type":"text","text":"/d","align":"left","baseline":"alphabetic","fontSize":38,"fontWeight":"bold"},"encoding":{"x":{"datum":1679,"type":"quantitative","scale":{"type":"log","domain":[1.5,5000],"nice":false},"axis":null},"y":{"datum":-0.0429,"type":"quantitative","scale":{"domain":[0.15,1.65],"nice":false,"zero":false},"axis":null}}},
{"data":{"values":[{}]},"mark":{"type":"text","text":"η","align":"left","baseline":"alphabetic","fontSize":38,"fontWeight":"normal","fontStyle":"italic","font":"DejaVu Serif"},"encoding":{"x":{"datum":3073,"type":"quantitative","scale":{"type":"log","domain":[1.5,5000],"nice":false},"axis":null},"y":{"datum":-0.0429,"type":"quantitative","scale":{"domain":[0.15,1.65],"nice":false,"zero":false},"axis":null}}},
{"data":{"values":[{}]},"mark":{"type":"text","text":"⟩","align":"left","baseline":"alphabetic","fontSize":38,"fontWeight":"bold"},"encoding":{"x":{"datum":4314,"type":"quantitative","scale":{"type":"log","domain":[1.5,5000],"nice":false},"axis":null},"y":{"datum":-0.0429,"type":"quantitative","scale":{"domain":[0.15,1.65],"nice":false,"zero":false},"axis":null}}},
{"data":{"values":[{}]},"mark":{"type":"text","text":"|η|<0.5","align":"left","baseline":"alphabetic","fontSize":21,"fontWeight":"bold"},"encoding":{"x":{"datum":5382,"type":"quantitative","scale":{"type":"log","domain":[1.5,5000],"nice":false},"axis":null},"y":{"datum":-0.0793,"type":"quantitative","scale":{"domain":[0.15,1.65],"nice":false,"zero":false},"axis":null}}}
]}
]
}
